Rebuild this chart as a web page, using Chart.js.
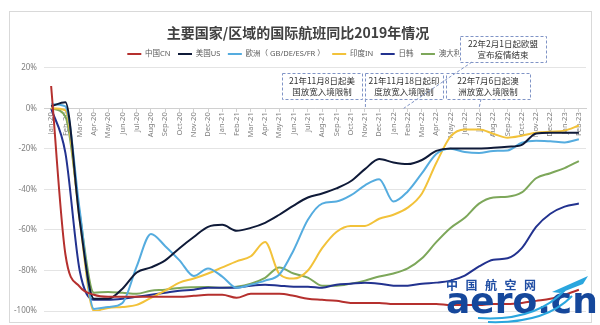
<!DOCTYPE html>
<html>
<head>
<meta charset="utf-8">
<script src="https://cdn.jsdelivr.net/npm/chart.js@4.4.1/dist/chart.umd.min.js"></script>
<style>
    html, body { margin: 0; padding: 0; background: #fff; }
    #wrap { width: 600px; height: 325px; position: relative; }
</style>
</head>
<body>
<div id="wrap"><canvas id="flightsChart"></canvas></div>
<script>
"use strict";

// --- Data (% vs same month of 2019) ---
const months = [
    'Jan-20', 'Feb-20', 'Mar-20', 'Apr-20', 'May-20', 'Jun-20', 'Jul-20', 'Aug-20', 'Sep-20', 'Oct-20', 'Nov-20', 'Dec-20',
    'Jan-21', 'Feb-21', 'Mar-21', 'Apr-21', 'May-21', 'Jun-21', 'Jul-21', 'Aug-21', 'Sep-21', 'Oct-21', 'Nov-21', 'Dec-21',
    'Jan-22', 'Feb-22', 'Mar-22', 'Apr-22', 'May-22', 'Jun-22', 'Jul-22', 'Aug-22', 'Sep-22', 'Oct-22', 'Nov-22', 'Dec-22',
    'Jan-23', 'Feb-23'
];

const chinaCN = [11, -72, -88, -92, -93, -93, -93, -93, -93, -93, -92.5, -92, -92, -93.5, -91.5, -91.5, -91.5, -92.5, -94, -94.5,
    -95, -96, -96, -96, -96.5, -96.5, -96.5, -96.5, -97, -97, -97, -96.5, -96.5, -96, -95, -94, -92, -89.5];
const usaUS = [1, 3, -55, -94, -94, -89, -81, -78.5, -75, -69, -63.5, -58.5, -57.5, -60.4, -59, -56.5, -52.5, -48, -44, -42,
    -39.5, -36, -30, -25, -26.7, -27.5, -25.5, -21, -19.8, -19.8, -19.8, -19.5, -19, -18, -12.4, -12, -12, -12];
const europe = [2, 1, -50, -99, -98, -96, -78, -62, -68, -75, -82.7, -79, -83, -88.5, -87, -85, -82, -70, -55, -47,
    -46, -43, -38, -35, -46, -41, -32, -22.5, -20, -21.5, -22, -21, -20.8, -17, -16, -16.3, -16.8, -15.3];
const indiaIN = [0, -1, -55, -100, -98.5, -98, -97, -93.5, -90, -86, -84, -81.5, -78.5, -75.5, -73, -66, -81.7, -84, -80, -69,
    -61, -58, -58, -54.5, -52.5, -49, -42, -27, -14, -10.5, -10.5, -12.5, -14.5, -13.5, -12, -11.5, -11, -8.5];
const japanKorea = [0, -22, -80, -94.5, -94.5, -94, -93, -92, -91, -90, -89.5, -88.5, -88.5, -88.5, -87.5, -87, -87.5, -88, -88, -88.5,
    -87, -86.5, -86, -86.5, -87.5, -87.5, -86.5, -86, -85, -82.5, -78, -74.7, -74, -69, -58.5, -52, -48.5, -47];
const australia = [0, -4, -52, -91, -90.6, -91, -91.5, -90, -89.5, -88.6, -88.3, -88.2, -88.5, -88, -86.5, -83.6, -78.5, -81.5, -83.5, -87.5,
    -87.5, -86.5, -85, -83, -81.5, -79, -74, -66, -59, -54, -47, -44, -43.6, -41.5, -34.5, -32, -29.5, -26];

const seriesNames = ['中国CN', '美国US', '欧洲（ GB/DE/ES/FR ）', '印度IN', '日韩', '澳大利亚'];
const seriesColors = ['#b5302e', '#0f1a38', '#55acdf', '#f2c23a', '#22328f', '#7da75a'];
const yTicks = [-100, -80, -60, -40, -20, 0, 20];

// policy notes and the month each one points at
const noteTexts = [
    ['21年11月8日起美', '国放宽入境限制'],
    ['21年11月18日起印', '度放宽入境限制'],
    ['22年7月6日起澳', '洲放宽入境限制'],
    ['22年2月1日起欧盟', '宣布疫情结束']
];
const noteMonths = ['Nov-21', 'Nov-21', 'Jul-22', 'Feb-22'];

const FONT = '"Noto Sans", "Noto Sans CJK SC", sans-serif';
const CJK_FONT = '"Noto Sans CJK SC", sans-serif';
const NOTE_COLOR = '#8094c6';

// --- Plugins ---
// white background + thin outer frame like the Excel chart area
const framePlugin = {
    id: 'frame',
    beforeDraw(chart) {
        const { ctx, width, height } = chart;
        ctx.save();
        ctx.fillStyle = '#fff';
        ctx.fillRect(0, 0, width, height);
        ctx.strokeStyle = '#d9d9d9';
        ctx.lineWidth = 1;
        ctx.strokeRect(9.5, 11.5, 582, 311);
        ctx.restore();
    }
};

function drawNote(ctx, x, y, w, h, lines, fill) {
    ctx.save();
    if (fill) {
        ctx.fillStyle = '#fff';
        ctx.fillRect(x, y, w, h);
    }
    ctx.setLineDash([3, 2]);
    ctx.strokeStyle = NOTE_COLOR;
    ctx.lineWidth = 1;
    ctx.strokeRect(x + 0.5, y + 0.5, w, h);
    ctx.setLineDash([]);
    ctx.fillStyle = '#333';
    ctx.font = '8.5px ' + CJK_FONT;
    ctx.textAlign = 'center';
    ctx.textBaseline = 'middle';
    lines.forEach((t, i) => ctx.fillText(t, x + w / 2, y + h / 2 + (i - 0.5) * 11));
    ctx.restore();
}

function drawConnector(ctx, x1, y1, x2, y2) {
    ctx.save();
    ctx.setLineDash([3, 2]);
    ctx.strokeStyle = NOTE_COLOR;
    ctx.lineWidth = 1;
    ctx.beginPath();
    ctx.moveTo(x1, y1);
    ctx.lineTo(x2, y2);
    ctx.stroke();
    ctx.restore();
}

const notesPlugin = {
    id: 'notes',
    afterDraw(chart) {
        const { ctx, scales: { x, y } } = chart;
        const axisY = y.getPixelForValue(0);
        const px = m => x.getPixelForValue(months.indexOf(m));

        // boxes (geometry is layout only)
        const boxes = [
            [282, 73, 80, 26, false],
            [365, 73, 78, 26, false],
            [446, 73, 84, 26, false],
            [460, 36, 86, 26, true]
        ];
        boxes.forEach((b, i) => drawNote(ctx, b[0], b[1], b[2], b[3], noteTexts[i], b[4]));

        // leader lines down to the month on the 0% axis
        drawConnector(ctx, px(noteMonths[0]) + 0.5, 99, px(noteMonths[0]) + 0.5, axisY);
        drawConnector(ctx, 481, 99, px(noteMonths[2]), axisY);
        drawConnector(ctx, 472, 62, px(noteMonths[3]) - 4, axisY);

        // source watermark
        ctx.save();
        ctx.fillStyle = '#1f4da3';
        ctx.textBaseline = 'alphabetic';
        ctx.font = 'bold 12px ' + CJK_FONT;
        '中国航空网'.split('').forEach((c, i) => ctx.fillText(c, 446 + i * 19.5, 290));
        ctx.fillStyle = '#15479b';
        ctx.font = 'bold 36px "DejaVu Sans"';
        ctx.fillText('aero.cn', 446, 313);
        ctx.strokeStyle = '#2aa6de';
        ctx.lineWidth = 2;
        ctx.beginPath();
        ctx.moveTo(478, 318);
        ctx.quadraticCurveTo(535, 322, 565, 290);
        ctx.stroke();
        ctx.beginPath();
        ctx.moveTo(488, 322);
        ctx.quadraticCurveTo(545, 324, 572, 296);
        ctx.stroke();
        ctx.fillStyle = '#2aa6de';
        ctx.beginPath();
        ctx.moveTo(552, 292);
        ctx.lineTo(588, 276);
        ctx.lineTo(583, 284);
        ctx.lineTo(560, 293);
        ctx.closePath();
        ctx.fill();
        ctx.restore();
    }
};

// --- Chart ---
const seriesData = [chinaCN, usaUS, europe, indiaIN, japanKorea, australia];

const datasets = seriesNames.map((name, i) => ({
    label: name,
    data: seriesData[i],
    borderColor: seriesColors[i],
    backgroundColor: seriesColors[i],
    borderWidth: 2,
    pointRadius: 0,
    cubicInterpolationMode: 'monotone',
    fill: false
}));

new Chart(document.getElementById('flightsChart').getContext('2d'), {
    type: 'line',
    data: { labels: months, datasets },
    options: {
        responsive: true,
        maintainAspectRatio: false,
        animation: false,
        layout: { padding: { top: 12, left: 10, right: 14, bottom: 14 } },
        font: { family: FONT },
        plugins: {
            title: {
                display: true,
                text: '主要国家/区域的国际航班同比2019年情况',
                color: '#404040',
                font: { family: CJK_FONT, size: 14, weight: 'bold' },
                padding: { top: 12, bottom: 2 }
            },
            legend: {
                position: 'top',
                labels: {
                    usePointStyle: true,
                    pointStyle: 'line',
                    pointStyleWidth: 14,
                    boxHeight: 8,
                    padding: 7.5,
                    color: '#595959',
                    font: { family: FONT, size: 7.5 }
                }
            },
            tooltip: { enabled: false }
        },
        scales: {
            x: {
                type: 'category',
                position: { y: 0 },
                offset: true,
                grid: { drawOnChartArea: false, drawTicks: true, tickLength: 3, color: '#d0d0d0' },
                border: { display: true, color: '#d0d0d0' },
                ticks: {
                    autoSkip: false,
                    minRotation: 90,
                    maxRotation: 90,
                    padding: 1,
                    color: '#7f7f7f',
                    font: { family: FONT, size: 7.5 }
                }
            },
            y: {
                min: yTicks[0],
                max: yTicks[yTicks.length - 1],
                afterFit: scale => { scale.width = 34; },
                afterBuildTicks: scale => { scale.ticks = yTicks.map(v => ({ value: v })); },
                grid: { color: '#e4e4e4', drawTicks: false },
                border: { display: false },
                ticks: {
                    padding: 7,
                    color: '#7f7f7f',
                    font: { family: FONT, size: 8 },
                    callback: v => v + '%'
                }
            }
        }
    },
    plugins: [framePlugin, notesPlugin]
});
</script>
</body>
</html>
